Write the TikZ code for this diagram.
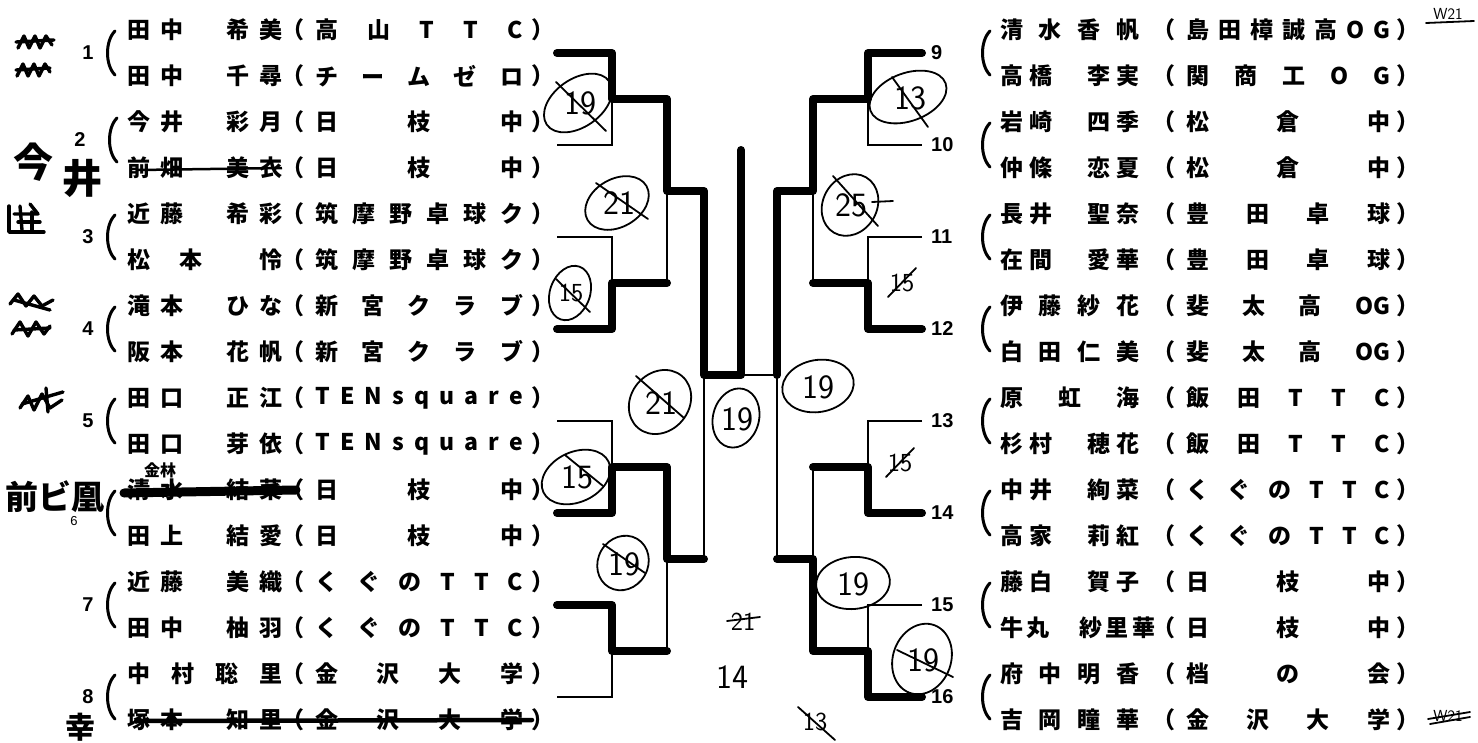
\documentclass[tikz,border=0pt]{standalone}
\usepackage{fontspec}
\newfontfamily\jp{Noto Sans CJK JP}
\newfontfamily\numf{Liberation Sans}
\makeatletter
\def\spr@#1#2\relax{#1\if\relax\detokenize{#2}\relax\else\hfil\spr@#2\relax\fi}
\newcommand\spreadbox[2]{\hbox to #1{\spr@#2\relax}}
\makeatother
\newcommand\OG{\mbox{OG}}
\newcommand\lrow[4]{%
  \node[lt,anchor=west] (#1n) at (127,#2) {\spreadbox{155pt}{#3}};
  \node[lt] (#1a) at (293,#2) {（};
  \node[lt,anchor=west] (#1t) at (315,#2) {\spreadbox{208pt}{#4}};
  \node[lt] (#1b) at (543,#2) {）};}
\newcommand\rrow[5]{%
  \node[lt,anchor=west] (#1n) at (1000,#2) {\spreadbox{#5}{#3}};
  \node[lt] (#1a) at (1164,#2) {（};
  \node[lt,anchor=west] (#1t) at (1186,#2) {\spreadbox{204pt}{#4}};
  \node[lt] (#1b) at (1408,#2) {）};}
\newcommand\tallparen[2]{\draw[par] (#1+5,#2-22) .. controls (#1-5,#2-12) and (#1-5,#2+12) .. (#1+5,#2+22);}
\begin{document}
\begin{tikzpicture}[x=1pt,y=-1pt,
  lt/.style={inner sep=0pt, font=\jp\bfseries\fontsize{23}{23}\selectfont},
  num/.style={inner sep=0pt, font=\numf\bfseries\fontsize{20}{20}\selectfont},
  br/.style={line width=2.4pt},
  win/.style={line width=8pt, line cap=round, line join=round},
  hand/.style={line width=1.8pt, line cap=round},
  hw/.style={inner sep=0pt, font=\sffamily\fontsize{34}{34}\selectfont},
  hws/.style={inner sep=0pt, font=\sffamily\fontsize{26}{26}\selectfont},
  hwj/.style={inner sep=0pt, font=\jp\bfseries\fontsize{40}{40}\selectfont},
  scr/.style={line width=3.4pt, line cap=round, line join=round},
  par/.style={line width=3pt, line cap=round}]
\useasboundingbox (0,0) rectangle (1478,742);
\fill[white] (0,0) rectangle (1478,742);

% ---------- left entries ----------
\lrow{L1}{30}{田中　希美}{高山TTC}
\lrow{L2}{76}{田中　千尋}{チームゼロ}
\lrow{L3}{122}{今井　彩月}{日　枝　中}
\lrow{L4}{168}{前畑　美衣}{日　枝　中}
\lrow{L5}{214}{近藤　希彩}{筑摩野卓球ク}
\lrow{L6}{260}{松　本　　怜}{筑摩野卓球ク}
\lrow{L7}{306}{滝本　ひな}{新宮クラブ}
\lrow{L8}{352}{阪本　花帆}{新宮クラブ}
\lrow{L9}{398}{田口　正江}{TENsquare}
\lrow{L10}{444}{田口　芽依}{TENsquare}
\lrow{L11}{490}{清水　結菜}{日　枝　中}
\lrow{L12}{536}{田上　結愛}{日　枝　中}
\lrow{L13}{582}{近藤　美織}{くぐのTTC}
\lrow{L14}{628}{田中　柚羽}{くぐのTTC}
\lrow{L15}{674}{中村聡里}{金沢大学}
\lrow{L16}{720}{塚本　知里}{金沢大学}

% ---------- right entries ----------
\rrow{R1}{30}{清水香帆}{島田樟誠高OG}{139pt}
\rrow{R2}{76}{高橋　李実}{関商工OG}{139pt}
\rrow{R3}{122}{岩崎　四季}{松　倉　中}{139pt}
\rrow{R4}{168}{仲條　恋夏}{松　倉　中}{139pt}
\rrow{R5}{214}{長井　聖奈}{豊田卓球}{139pt}
\rrow{R6}{260}{在間　愛華}{豊田卓球}{139pt}
\rrow{R7}{306}{伊藤紗花}{斐太高\OG}{139pt}
\rrow{R8}{352}{白田仁美}{斐太高\OG}{139pt}
\rrow{R9}{398}{原虹海}{飯田TTC}{139pt}
\rrow{R10}{444}{杉村　穂花}{飯田TTC}{139pt}
\rrow{R11}{490}{中井　絢菜}{くぐのTTC}{139pt}
\rrow{R12}{536}{高家　莉紅}{くぐのTTC}{139pt}
\rrow{R13}{582}{藤白　賀子}{日　枝　中}{139pt}
\rrow{R14}{628}{牛丸　紗里華}{日　枝　中}{155pt}
\rrow{R15}{674}{府中明香}{档　の　会}{139pt}
\rrow{R16}{720}{吉岡瞳華}{金沢大学}{139pt}

% ---------- seed numbers and parentheses ----------
\foreach \k/\yy in {1/53,3/237,4/329,5/421,7/605,8/697}{
  \node[num] (n\k) at (88,\yy) {\k};
  \tallparen{110}{\yy}}
\node[num] (n2) at (80,140) {2};
\tallparen{112}{140}
\node[num,font=\numf\fontsize{13}{13}\selectfont] (n6) at (74,521) {6};
\tallparen{110}{513}
\foreach \k/\yy in {9/53,10/145,11/237,12/329,13/421,14/513,15/605,16/697}{
  \node[num,anchor=west] (n\k) at (931,\yy) {\k};
  \tallparen{985}{\yy}}

% ---------- bracket coordinates ----------
\foreach \k in {1,...,8}{
  \coordinate (ls\k) at (557,{53+92*(\k-1)});
  \coordinate (rs\k) at (922,{53+92*(\k-1)});}
\coordinate (lm1) at (612,99);  \coordinate (lm2) at (612,283);
\coordinate (lm3) at (612,467); \coordinate (lm4) at (612,651);
\coordinate (lq1) at (667,191); \coordinate (lq2) at (667,559);
\coordinate (lsf) at (704,375);
\coordinate (rm1) at (868,99);  \coordinate (rm2) at (868,283);
\coordinate (rm3) at (868,467); \coordinate (rm4) at (868,651);
\coordinate (rq1) at (813,191); \coordinate (rq2) at (813,559);
\coordinate (rsf) at (777,375);
\coordinate (cf) at (741,375);
\coordinate (ct) at (741,150);

% thin printed bracket
\draw[br] (ls1) -| (lm1) |- (ls2);
\draw[br] (ls3) -| (lm2) |- (ls4);
\draw[br] (ls5) -| (lm3) |- (ls6);
\draw[br] (ls7) -| (lm4) |- (ls8);
\draw[br] (lm1) -| (lq1) |- (lm2);
\draw[br] (lm3) -| (lq2) |- (lm4);
\draw[br] (lq1) -| (lsf) |- (lq2);
\draw[br] (rs1) -| (rm1) |- (rs2);
\draw[br] (rs3) -| (rm2) |- (rs4);
\draw[br] (rs5) -| (rm3) |- (rs6);
\draw[br] (rs7) -| (rm4) |- (rs8);
\draw[br] (rm1) -| (rq1) |- (rm2);
\draw[br] (rm3) -| (rq2) |- (rm4);
\draw[br] (rq1) -| (rsf) |- (rq2);
\draw[br] (lsf) -- (rsf);

% winners (marker)
\draw[win] (ls1) -| (lm1) -| (lq1) -| (lsf) -- (cf) -- (ct);
\draw[win] (ls4) -| (lm2) -- (lm2 -| lq1);
\draw[win] (ls6) -| (lm3) -| (lq2) -- (lq2 -| lsf);
\draw[win] (ls7) -| (lm4) -- (lm4 -| lq2);
\draw[win] (rs1) -| (rm1) -| (rq1) -| (rsf);
\draw[win] (rs4) -| (rm2) -- (rm2 -| rq1);
\draw[win] (rs6) -| (rm3) -- (rm3 -| rq2);
\draw[win] (rs8) -| (rm4) -| (rq2) -- (rq2 -| rsf);

% ---------- handwritten scores ----------
\draw[hand,rotate around={35:(578,103)}] (578,103) ellipse (38 and 24);
\node[hw] (sa) at (580,103) {19};
\draw[hand] (556,82) -- (606,131);
\draw[hand,rotate around={30:(617,203)}] (617,203) ellipse (34 and 24);
\node[hw] (sb) at (619,203) {21};
\draw[hand] (596,183) -- (648,219);
\draw[hand,rotate around={70:(570,293)}] (570,293) ellipse (28 and 20);
\node[hws] (sc) at (571,293) {15};
\draw[hand] (556,279) -- (590,312);
\draw[hand,rotate around={20:(908,97)}] (908,97) ellipse (40 and 24);
\node[hw] (sd) at (910,98) {13};
\draw[hand] (892,77) -- (928,127);
\draw[hand,rotate around={60:(850,205)}] (850,205) ellipse (32 and 27);
\node[hw] (se) at (851,205) {25};
\draw[hand] (833,176) -- (878,226);
\draw[hand] (872,202) -- (893,201);
\node[hws] (sf) at (902,283) {15};
\draw[hand] (888,297) -- (916,268);
\draw[hand,rotate around={50:(660,402)}] (660,402) ellipse (34 and 29);
\node[hw] (sg) at (661,403) {21};
\draw[hand] (636,376) -- (684,418);
\draw[hand,rotate around={75:(736,418)}] (736,418) ellipse (30 and 23);
\node[hw] (sh) at (737,419) {19};
\draw[hand,rotate around={10:(818,386)}] (818,386) ellipse (36 and 26);
\node[hw] (si) at (818,387) {19};
\draw[hand,rotate around={25:(576,477)}] (576,477) ellipse (36 and 25);
\node[hw] (sj) at (577,477) {15};
\draw[hand] (565,455) -- (603,486);
\draw[hand,rotate around={60:(623,563)}] (623,563) ellipse (28 and 25);
\node[hw] (sk) at (624,564) {19};
\draw[hand] (603,544) -- (645,573);
\node[hws] (sl) at (900,463) {15};
\draw[hand] (886,477) -- (914,448);
\draw[hand,rotate around={5:(853,583)}] (853,583) ellipse (37 and 26);
\node[hw] (sm) at (853,584) {19};
\draw[hand,rotate around={70:(922,659)}] (922,659) ellipse (36 and 29);
\node[hw] (sn) at (923,660) {19};
\draw[hand] (897,650) -- (953,677);
\node[hws] (so) at (743,622) {21};
\draw[hand] (727,621) -- (760,617);
\node[hw] (sp) at (732,677) {14};
\node[hws] (sq) at (815,722) {13};
\draw[hand] (798,707) -- (835,740);

% ---------- strike-throughs ----------
\draw[line width=2.5pt] (138,170) -- (282,168);
\draw[line width=9pt,line cap=round] (124,493) -- (296,490);
\draw[line width=4.5pt,line cap=round] (136,721) -- (532,720);

% ---------- margin handwriting ----------
\node[hwj] (ima) at (33,162) {今};
\node[hwj] (ii) at (82,178) {井};
\node[hwj,font=\jp\bfseries\fontsize{33}{33}\selectfont] (mae) at (55,497) {前ビ凰};
\node[inner sep=0pt,font=\jp\bfseries\fontsize{16}{16}\selectfont] (kin) at (160,470) {金林};
\node[inner sep=0pt,font=\jp\bfseries\fontsize{30}{30}\selectfont] (sai) at (80,727) {幸};
% scribbles
\draw[scr] (18,48) -- (24,36) -- (29,48) -- (35,36) -- (40,48) -- (46,36) -- (52,45);
\draw[scr] (16,42) -- (54,40);
\draw[scr] (17,76) -- (23,64) -- (28,76) -- (34,64) -- (39,76) -- (45,64) -- (50,72);
\draw[scr] (16,70) -- (50,68);
\draw[scr] (9,206) -- (9,232) -- (44,232); \draw[scr] (14,214) -- (38,214) -- (30,204);
\draw[scr] (18,222) -- (40,222); \draw[scr] (20,206) -- (22,230); \draw[scr] (32,212) -- (32,230);
\draw[scr] (10,304) -- (18,294) -- (26,306) -- (34,296) -- (42,306) -- (53,300);
\draw[scr] (14,300) -- (50,310);
\draw[scr] (12,334) -- (20,322) -- (28,336) -- (36,322) -- (44,334) -- (50,326);
\draw[scr] (14,330) -- (50,328);
\draw[scr] (20,408) -- (28,396) -- (34,410) -- (42,394) -- (50,408) -- (62,400);
\draw[scr] (22,404) -- (63,392); \draw[scr] (46,388) -- (48,412);
% right margin
\node[inner sep=0pt,font=\sffamily\fontsize{16}{16}\selectfont] (w1) at (1448,14) {W21};
\draw[hand] (1426,23) -- (1474,21);
\node[inner sep=0pt,font=\sffamily\fontsize{16}{16}\selectfont] (w2) at (1448,716) {W21};
\draw[hand] (1428,719) -- (1470,712); \draw[hand] (1430,724) -- (1470,717);
\end{tikzpicture}
\end{document}
